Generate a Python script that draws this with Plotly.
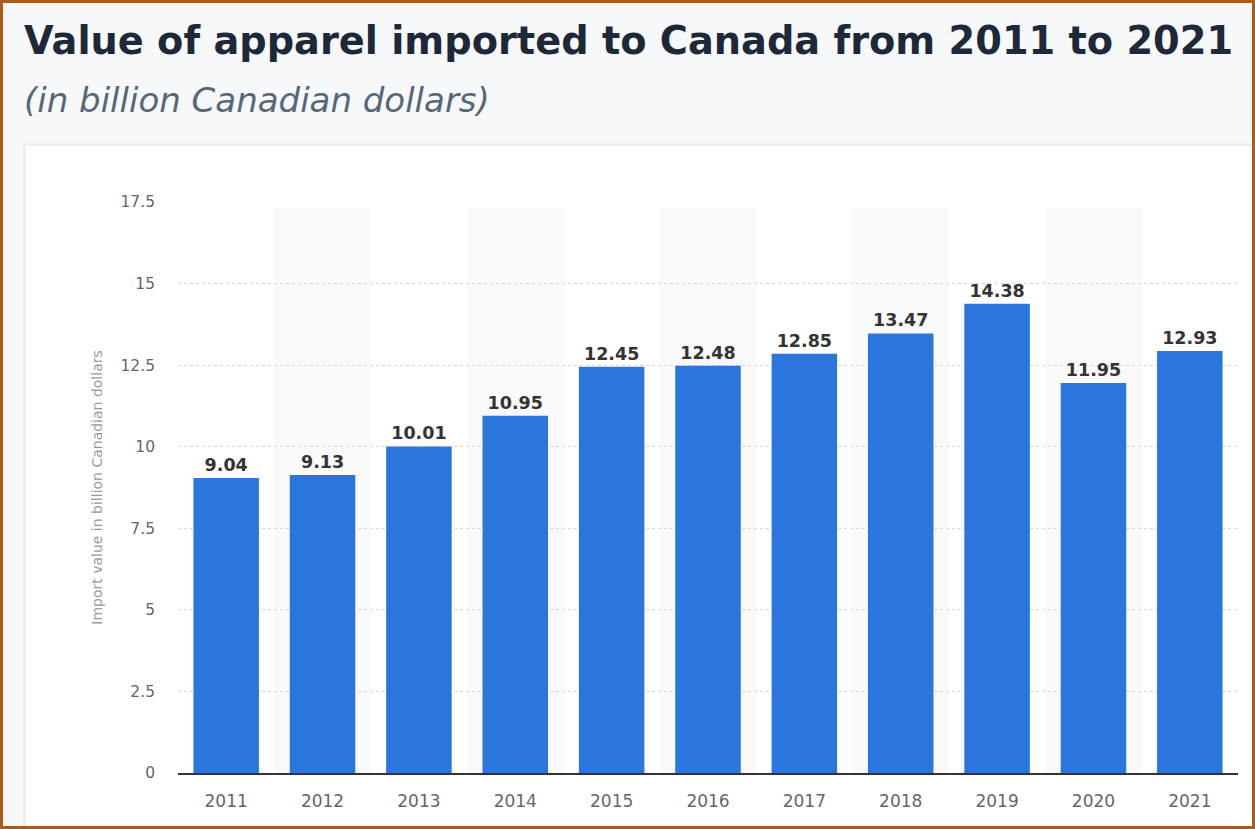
import plotly.graph_objects as go

years = ["2011", "2012", "2013", "2014", "2015", "2016", "2017", "2018", "2019", "2020", "2021"]
values = [9.04, 9.13, 10.01, 10.95, 12.45, 12.48, 12.85, 13.47, 14.38, 11.95, 12.93]
y_ticks = [0, 2.5, 5, 7.5, 10, 12.5, 15, 17.5]
y_tick_labels = ["0", "2.5", "5", "7.5", "10", "12.5", "15", "17.5"]

W, H = 1255, 829
ML, MR, MT, MB = 178, 17, 202, 56
PW = W - ML - MR
PH = H - MT - MB


def px(x):
    return (x - ML) / PW


def py(y):
    return (H - MB - y) / PH


fig = go.Figure()
fig.add_trace(go.Bar(
    x=years, y=values,
    marker=dict(color="#2a76dc", line=dict(width=0)),
    width=0.68,
    text=values,
    texttemplate="%{y:.2f}",
    textposition="outside",
    textfont=dict(family="DejaVu Sans", size=17.5, color="#333333", weight="bold"),
    cliponaxis=False,
    hoverinfo="skip",
))

shapes = []
# card background + shadow
shapes.append(dict(type="rect", xref="paper", yref="paper",
                   x0=px(23), x1=px(1256), y0=py(835), y1=py(143),
                   fillcolor="#eceef1", line=dict(width=0), layer="below"))
shapes.append(dict(type="rect", xref="paper", yref="paper",
                   x0=px(26), x1=px(1256), y0=py(835), y1=py(146),
                   fillcolor="#ffffff", line=dict(width=0), layer="below"))
# alternating column shading
for i, yr in enumerate(years):
    if i % 2 == 1:
        shapes.append(dict(type="rect", xref="x", yref="paper",
                           x0=i - 0.5, x1=i + 0.5, y0=0, y1=0.99,
                           fillcolor="#f9f9fa", line=dict(width=0), layer="below"))
# outer border
shapes.append(dict(type="rect", xref="paper", yref="paper",
                   x0=px(1.5), x1=px(W - 1.5), y0=py(H - 1.5), y1=py(1.5),
                   line=dict(color="#b05a17", width=3), fillcolor="rgba(0,0,0,0)", layer="above"))

annotations = [
    dict(text="<b>Value of apparel imported to Canada from 2011 to 2021</b>",
         xref="paper", yref="paper", x=px(22), y=py(40), xanchor="left", yanchor="middle",
         showarrow=False, font=dict(family="DejaVu Sans", size=38.3, color="#1d2838")),
    dict(text="<i>(in billion Canadian dollars)</i>",
         xref="paper", yref="paper", x=px(22), y=py(100), xanchor="left", yanchor="middle",
         showarrow=False, font=dict(family="DejaVu Sans", size=34, color="#56677a")),
]

fig.update_layout(
    width=W, height=H,
    margin=dict(l=ML, r=MR, t=MT, b=MB),
    paper_bgcolor="#f7f8fa",
    plot_bgcolor="rgba(0,0,0,0)",
    showlegend=False,
    bargap=0.32,
    shapes=shapes,
    annotations=annotations,
    xaxis=dict(
        type="category",
        showgrid=False,
        showline=True, linecolor="#333333", linewidth=1.5,
        ticks="", ticklabelstandoff=12,
        tickfont=dict(family="DejaVu Sans", size=17, color="#666666"),
    ),
    yaxis=dict(
        range=[0, 17.5],
        tickvals=y_ticks, ticktext=y_tick_labels,
        showgrid=True, gridcolor="#d6d6d6", griddash="dot", gridwidth=1,
        zeroline=False, showline=False, ticks="",
        ticklabelstandoff=22,
        tickfont=dict(family="DejaVu Sans", size=15.5, color="#666666"),
        title=dict(text="Import value in billion Canadian dollars",
                   font=dict(family="DejaVu Sans", size=14, color="#9a9a9a"), standoff=14),
    ),
)

fig.write_html("out.html")
